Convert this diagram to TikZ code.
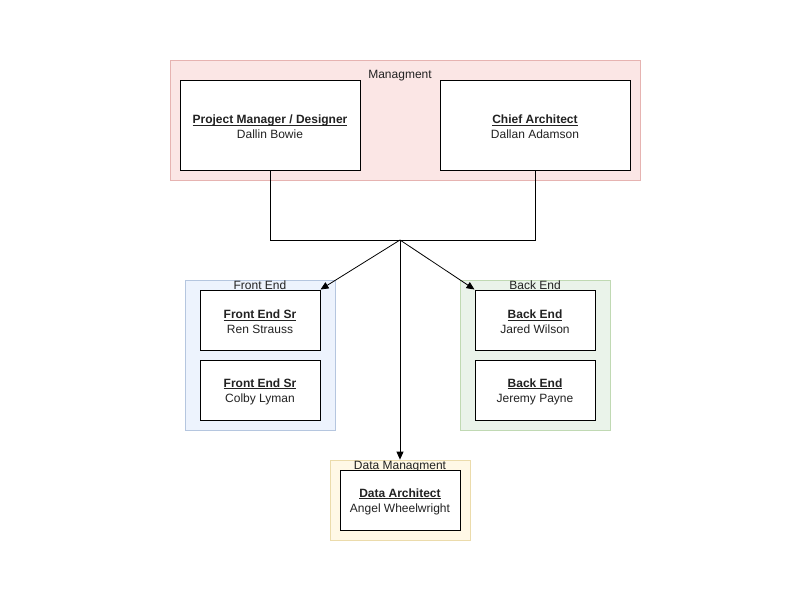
\documentclass[tikz,border=0pt]{standalone}
\usepackage{fontspec}
\setmainfont{Liberation Sans}
\usetikzlibrary{arrows.meta}
\definecolor{mgfill}{HTML}{FBE6E5}
\definecolor{mgdraw}{HTML}{E6B3B1}
\definecolor{fefill}{HTML}{EDF3FD}
\definecolor{fedraw}{HTML}{B5C6DF}
\definecolor{befill}{HTML}{EAF3EA}
\definecolor{bedraw}{HTML}{C0D9B3}
\definecolor{dmfill}{HTML}{FFF8E6}
\definecolor{dmdraw}{HTML}{EBDBAB}
\definecolor{txt}{HTML}{222222}
\tikzset{
  grp/.style={draw=#1draw, fill=#1fill, line width=0.8pt, rectangle, inner sep=0pt},
  person/.style={draw=black, fill=white, line width=1pt, rectangle, inner sep=0pt, align=center, text=txt, font=\fontsize{12}{15}\selectfont},
  glabel/.style={text=txt, font=\fontsize{12}{14}\selectfont, inner sep=0pt},
  conn/.style={draw=black, line width=0.8pt},
  arr/.style={conn, -{Triangle[length=8pt,width=7pt]}}
}
\newsavebox\ttlbox
\newcommand{\ttl}[1]{\rule{0pt}{11.8pt}\sbox\ttlbox{\textbf{#1}}\usebox\ttlbox\llap{\rule[-2pt]{\wd\ttlbox}{0.8pt}}}
\begin{document}
\begin{tikzpicture}[x=1pt,y=-1pt]
\useasboundingbox[fill=white] (0,0) rectangle (800,600);
% groups
\node[grp=mg, minimum width=470pt, minimum height=120pt] (mg) at (405,120) {};
\node[glabel] (mgl) at (400,76) {Managment};
\node[grp=fe, minimum width=150pt, minimum height=150pt] (fe) at (260,355) {};
\node[glabel] (fel) at (260,285) {Front End};
\node[grp=be, minimum width=150pt, minimum height=150pt] (be) at (535,355) {};
\node[glabel] (bel) at (535,285) {Back End};
\node[grp=dm, minimum width=140pt, minimum height=80pt] (dm) at (400,500) {};
\node[glabel] (dml) at (400,467) {Data Managment};
% people
\node[person, minimum width=180pt, minimum height=90pt] (pm) at (270,125) {\ttl{Project Manager / Designer}\\Dallin Bowie};
\node[person, minimum width=190pt, minimum height=90pt] (ca) at (535,125) {\ttl{Chief Architect}\\Dallan Adamson};
\node[person, minimum width=120pt, minimum height=60pt] (fe1) at (260,320) {\ttl{Front End Sr}\\Ren Strauss};
\node[person, minimum width=120pt, minimum height=60pt] (fe2) at (260,390) {\ttl{Front End Sr}\\Colby Lyman};
\node[person, minimum width=120pt, minimum height=60pt] (be1) at (535,320) {\ttl{Back End}\\Jared Wilson};
\node[person, minimum width=120pt, minimum height=60pt] (be2) at (535,390) {\ttl{Back End}\\Jeremy Payne};
\node[person, minimum width=120pt, minimum height=60pt] (da) at (400,500) {\ttl{Data Architect}\\Angel Wheelwright};
% connectors
\coordinate (j) at (400,240);
\draw[conn] (pm.south) -- (pm.south |- j) -- (ca.south |- j) -- (ca.south);
\draw[arr] (j) -- (fe1.north east);
\draw[arr] (j) -- (be1.north west);
\draw[arr] (j) -- (dm.north);
\end{tikzpicture}
\end{document}
